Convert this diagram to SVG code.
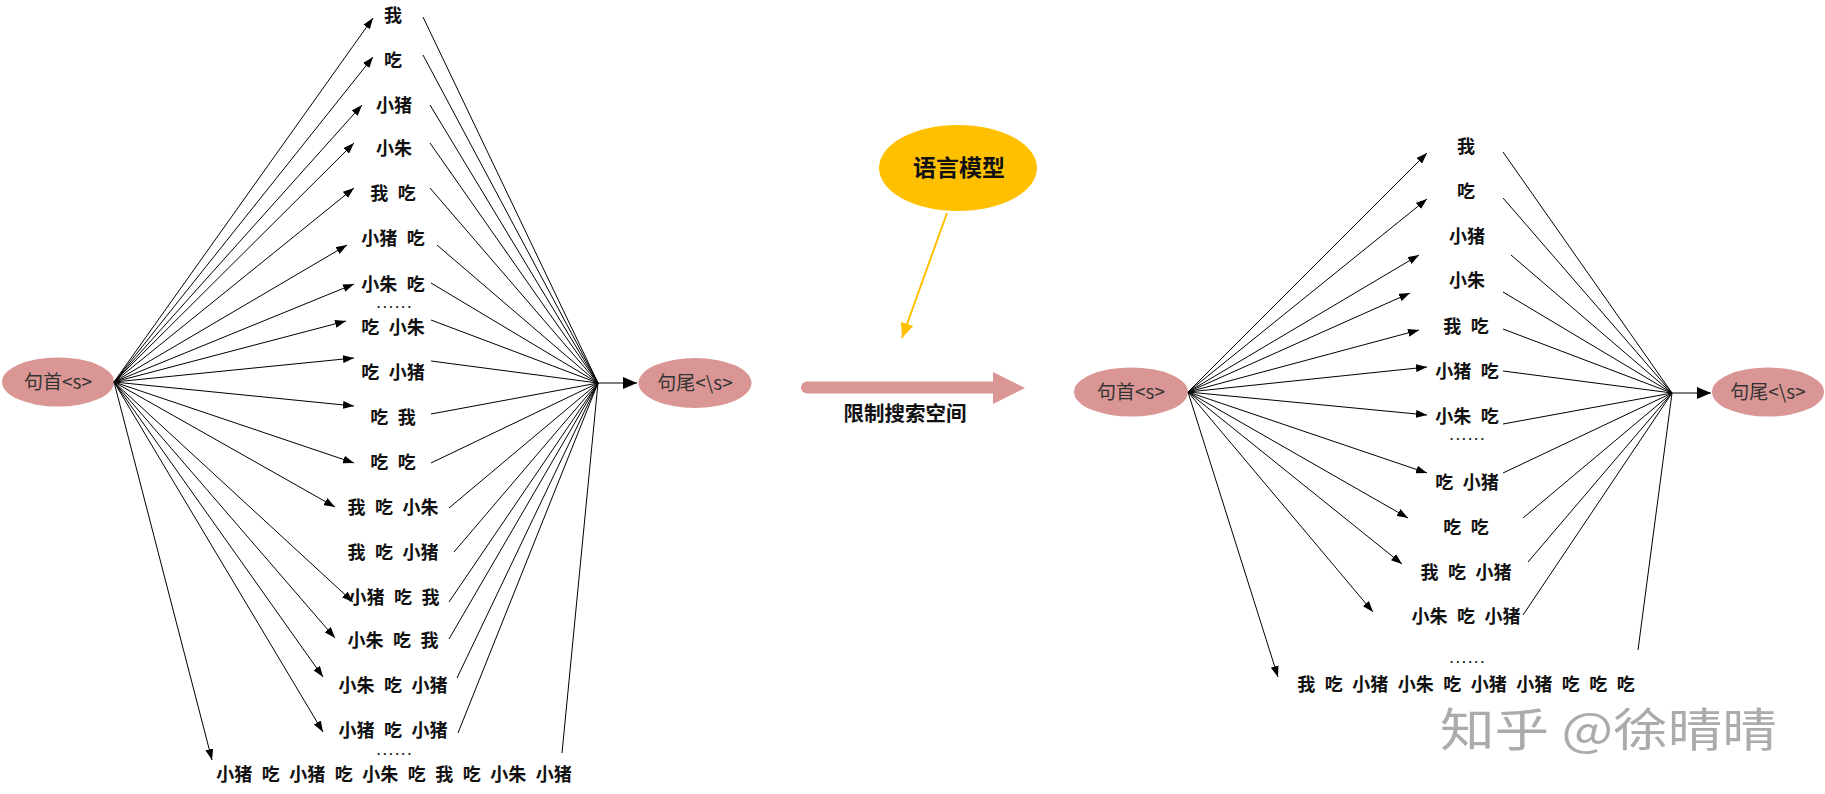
<svg xmlns="http://www.w3.org/2000/svg" width="1825" height="794" viewBox="0 0 1825 794">
<defs>
<marker id="ah" markerUnits="userSpaceOnUse" markerWidth="11" markerHeight="8" refX="11" refY="4" orient="auto"><path d="M0,0 L11,4 L0,8 z" fill="#000"/></marker>
<marker id="ahb" markerUnits="userSpaceOnUse" markerWidth="14" markerHeight="12" refX="14" refY="6" orient="auto"><path d="M0,0 L14,6 L0,12 z" fill="#000"/></marker>
<marker id="ahy" markerUnits="userSpaceOnUse" markerWidth="15" markerHeight="13" refX="15" refY="6.5" orient="auto"><path d="M0,0 L15,6.5 L0,13 z" fill="#FFC000"/></marker>
<style>
.lbl{font-family:"Liberation Serif","Noto Sans CJK SC",serif;font-weight:bold;font-size:18px;fill:#111;text-anchor:middle;word-spacing:5px}
.dots{font-family:"Liberation Serif",serif;font-weight:bold;font-size:13px;fill:#111;text-anchor:middle}
.end{font-family:"Noto Sans CJK SC","Liberation Sans",sans-serif;font-size:19px;fill:#333;text-anchor:middle}
.pk{fill:#D99694}
.c line{stroke:#000;stroke-width:1}
.c .a{marker-end:url(#ah)}
.thick{stroke:#000;stroke-width:2.5;marker-end:url(#ahb)}
</style>
</defs>
<rect width="1825" height="794" fill="#fff"/>

<!-- LEFT DIAGRAM -->
<g id="l-start"><ellipse class="pk" cx="58" cy="382" rx="56" ry="24.5"/><text class="end" x="58" y="389">句首&lt;s&gt;</text></g>
<g id="l-end"><ellipse class="pk" cx="695" cy="383" rx="56.5" ry="25"/><text class="end" x="695" y="390">句尾&lt;\s&gt;</text></g>
<g id="l-n1"><text class="lbl" x="393" y="22">我</text></g>
<g id="l-n2"><text class="lbl" x="393" y="67">吃</text></g>
<g id="l-n3"><text class="lbl" x="394" y="112">小猪</text></g>
<g id="l-n4"><text class="lbl" x="394" y="155">小朱</text></g>
<g id="l-n5"><text class="lbl" x="393" y="200">我 吃</text></g>
<g id="l-n6"><text class="lbl" x="393" y="245">小猪 吃</text></g>
<g id="l-n7"><text class="lbl" x="393" y="291">小朱 吃</text></g>
<g id="l-d1"><text class="dots" x="394" y="308" textLength="34" lengthAdjust="spacing">......</text></g>
<g id="l-n8"><text class="lbl" x="393" y="334">吃 小朱</text></g>
<g id="l-n9"><text class="lbl" x="393" y="379">吃 小猪</text></g>
<g id="l-n10"><text class="lbl" x="393" y="424">吃 我</text></g>
<g id="l-n11"><text class="lbl" x="393" y="469">吃 吃</text></g>
<g id="l-n12"><text class="lbl" x="393" y="514">我 吃 小朱</text></g>
<g id="l-n13"><text class="lbl" x="393" y="559">我 吃 小猪</text></g>
<g id="l-n14"><text class="lbl" x="394" y="604">小猪 吃 我</text></g>
<g id="l-n15"><text class="lbl" x="393" y="647">小朱 吃 我</text></g>
<g id="l-n16"><text class="lbl" x="393" y="692">小朱 吃 小猪</text></g>
<g id="l-n17"><text class="lbl" x="393" y="737">小猪 吃 小猪</text></g>
<g id="l-d2"><text class="dots" x="394" y="755" textLength="34" lengthAdjust="spacing">......</text></g>
<g id="l-n18"><text class="lbl" x="394" y="781">小猪 吃 小猪 吃 小朱 吃 我 吃 小朱 小猪</text></g>

<!-- RIGHT DIAGRAM -->
<g id="r-start"><ellipse class="pk" cx="1131" cy="392" rx="57" ry="24.5"/><text class="end" x="1131" y="399">句首&lt;s&gt;</text></g>
<g id="r-end"><ellipse class="pk" cx="1768" cy="392" rx="56" ry="24.5"/><text class="end" x="1768" y="399">句尾&lt;\s&gt;</text></g>
<g id="r-n1"><text class="lbl" x="1466" y="153">我</text></g>
<g id="r-n2"><text class="lbl" x="1466" y="198">吃</text></g>
<g id="r-n3"><text class="lbl" x="1467" y="243">小猪</text></g>
<g id="r-n4"><text class="lbl" x="1467" y="287">小朱</text></g>
<g id="r-n5"><text class="lbl" x="1466" y="333">我 吃</text></g>
<g id="r-n6"><text class="lbl" x="1467" y="378">小猪 吃</text></g>
<g id="r-n7"><text class="lbl" x="1467" y="423">小朱 吃</text></g>
<g id="r-d1"><text class="dots" x="1467" y="440" textLength="34" lengthAdjust="spacing">......</text></g>
<g id="r-n8"><text class="lbl" x="1467" y="489">吃 小猪</text></g>
<g id="r-n9"><text class="lbl" x="1466" y="534">吃 吃</text></g>
<g id="r-n10"><text class="lbl" x="1466" y="579">我 吃 小猪</text></g>
<g id="r-n11"><text class="lbl" x="1466" y="623">小朱 吃 小猪</text></g>
<g id="r-d2"><text class="dots" x="1467" y="663" textLength="34" lengthAdjust="spacing">......</text></g>
<g id="r-n12"><text class="lbl" x="1466" y="691">我 吃 小猪 小朱 吃 小猪 小猪 吃 吃 吃</text></g>

<!-- MIDDLE -->
<g id="lm"><ellipse cx="958" cy="168" rx="79" ry="43" fill="#FFC000"/><text x="959" y="176" style="font-family:'Liberation Serif','Noto Sans CJK SC',serif;font-weight:bold;font-size:23px;fill:#111;text-anchor:middle">语言模型</text></g>
<g id="big-arrow"><path class="pk" d="M807,381.5 L993,381.5 L993,372 L1025,388 L993,404 L993,393.5 L807,393.5 A6,6 0 0 1 807,381.5 z"/><text x="905" y="421" style="font-family:'Liberation Serif','Noto Sans CJK SC',serif;font-weight:bold;font-size:20.5px;fill:#111;text-anchor:middle">限制搜索空间</text></g>

<g id="connectors" class="c">
<line x1="947" y1="213" x2="902" y2="338" style="stroke:#FFC000;stroke-width:2" marker-end="url(#ahy)"/>
<!-- left arrows -->
<line class="a" x1="114" y1="382" x2="373" y2="18"/>
<line class="a" x1="114" y1="382" x2="373" y2="57"/>
<line class="a" x1="114" y1="382" x2="362" y2="105"/>
<line class="a" x1="114" y1="382" x2="354" y2="143"/>
<line class="a" x1="114" y1="382" x2="354" y2="188"/>
<line class="a" x1="114" y1="382" x2="347" y2="245"/>
<line class="a" x1="114" y1="382" x2="354" y2="284"/>
<line class="a" x1="114" y1="382" x2="346" y2="321"/>
<line class="a" x1="114" y1="382" x2="354" y2="358"/>
<line class="a" x1="114" y1="382" x2="354" y2="406"/>
<line class="a" x1="114" y1="382" x2="354" y2="463"/>
<line class="a" x1="114" y1="382" x2="335" y2="507"/>
<line class="a" x1="114" y1="382" x2="353" y2="602"/>
<line class="a" x1="114" y1="382" x2="335" y2="638"/>
<line class="a" x1="114" y1="382" x2="323" y2="677"/>
<line class="a" x1="114" y1="382" x2="323" y2="732"/>
<line class="a" x1="114" y1="382" x2="212" y2="760"/>
<!-- left lines to end -->
<line x1="423" y1="17" x2="598" y2="383"/>
<line x1="423" y1="55" x2="598" y2="383"/>
<line x1="430" y1="105" x2="598" y2="383"/>
<line x1="430" y1="143" x2="598" y2="383"/>
<line x1="430" y1="188" x2="598" y2="383"/>
<line x1="437" y1="245" x2="598" y2="383"/>
<line x1="431" y1="283" x2="598" y2="383"/>
<line x1="431" y1="320" x2="598" y2="383"/>
<line x1="431" y1="361" x2="598" y2="383"/>
<line x1="431" y1="414" x2="598" y2="383"/>
<line x1="431" y1="463" x2="598" y2="383"/>
<line x1="449" y1="508" x2="598" y2="383"/>
<line x1="454" y1="552" x2="598" y2="383"/>
<line x1="449" y1="602" x2="598" y2="383"/>
<line x1="449" y1="639" x2="598" y2="383"/>
<line x1="457" y1="678" x2="598" y2="383"/>
<line x1="458" y1="733" x2="598" y2="383"/>
<line x1="562" y1="753" x2="598" y2="383"/>
<line class="thick" x1="597" y1="383" x2="637" y2="383"/>
<!-- right arrows -->
<line class="a" x1="1188" y1="392" x2="1427" y2="153"/>
<line class="a" x1="1188" y1="392" x2="1427" y2="199"/>
<line class="a" x1="1188" y1="392" x2="1419" y2="255"/>
<line class="a" x1="1188" y1="392" x2="1410" y2="293"/>
<line class="a" x1="1188" y1="392" x2="1419" y2="330"/>
<line class="a" x1="1188" y1="392" x2="1427" y2="367"/>
<line class="a" x1="1188" y1="392" x2="1427" y2="415"/>
<line class="a" x1="1188" y1="392" x2="1427" y2="473"/>
<line class="a" x1="1188" y1="392" x2="1408" y2="518"/>
<line class="a" x1="1188" y1="392" x2="1402" y2="564"/>
<line class="a" x1="1188" y1="392" x2="1373" y2="612"/>
<line class="a" x1="1188" y1="392" x2="1278" y2="677"/>
<!-- right lines to end -->
<line x1="1503" y1="152" x2="1672" y2="393"/>
<line x1="1503" y1="198" x2="1672" y2="393"/>
<line x1="1511" y1="255" x2="1672" y2="393"/>
<line x1="1503" y1="292" x2="1672" y2="393"/>
<line x1="1503" y1="329" x2="1672" y2="393"/>
<line x1="1503" y1="371" x2="1672" y2="393"/>
<line x1="1503" y1="424" x2="1672" y2="393"/>
<line x1="1503" y1="473" x2="1672" y2="393"/>
<line x1="1523" y1="518" x2="1672" y2="393"/>
<line x1="1528" y1="562" x2="1672" y2="393"/>
<line x1="1523" y1="615" x2="1672" y2="393"/>
<line x1="1638" y1="650" x2="1672" y2="393"/>
<line class="thick" x1="1671" y1="393" x2="1711" y2="393"/>
</g>

<text x="1440" y="746" textLength="337" lengthAdjust="spacingAndGlyphs" style="font-family:'Noto Sans CJK SC','Liberation Sans',sans-serif;font-size:46px;fill:#ababab">知乎 @徐晴晴</text>
</svg>
